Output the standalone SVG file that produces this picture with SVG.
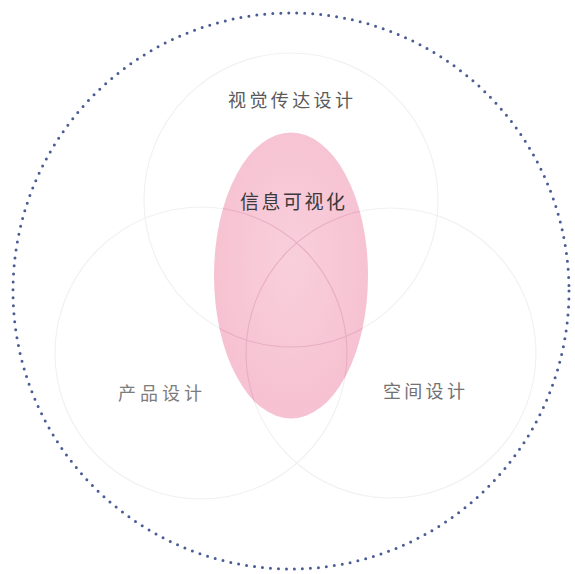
<svg xmlns="http://www.w3.org/2000/svg" width="575" height="574" viewBox="0 0 575 574">
  <style>
    .venn { fill: none; stroke: #f1f1f1; stroke-width: 1.2; }
    .venn-in { fill: none; stroke: #e8aec3; stroke-width: 1.1; }
    .lbl { font-family: "Noto Sans CJK SC", "Noto Sans CJK JP", sans-serif; font-size: 18px; fill: #666; }
  </style>
  <defs>
    <clipPath id="ellClip">
      <ellipse cx="291" cy="275.5" rx="77" ry="143"/>
    </clipPath>
    <radialGradient id="pinkGrad" cx="0.5" cy="0.45" r="0.6">
      <stop offset="0" stop-color="#f9cfdc"/>
      <stop offset="1" stop-color="#f6c0d1"/>
    </radialGradient>
  </defs>
  <rect width="575" height="574" fill="#ffffff"/>

  <g id="outer">
    <circle cx="291" cy="291" r="278" fill="none" stroke="#4a5c94" stroke-width="3" stroke-linecap="round" stroke-dasharray="0 8.02"/>
  </g>

  <g id="visual-design">
    <circle class="venn" cx="291" cy="200" r="147"/>
    <text class="lbl" x="228" y="107" letter-spacing="3.4" style="fill:#5a5a5a">视觉传达设计</text>
  </g>

  <g id="product-design">
    <circle class="venn" cx="201" cy="353" r="146"/>
    <text class="lbl" x="118" y="400" letter-spacing="4" style="fill:#7c7c7c">产品设计</text>
  </g>

  <g id="space-design">
    <circle class="venn" cx="391" cy="353" r="145"/>
    <text class="lbl" x="383" y="398" letter-spacing="3.3" style="fill:#727272">空间设计</text>
  </g>

  <g id="info-vis">
    <ellipse cx="291" cy="275.5" rx="77" ry="143" fill="url(#pinkGrad)"/>
    <g clip-path="url(#ellClip)">
      <circle class="venn-in" cx="291" cy="200" r="147"/>
      <circle class="venn-in" cx="201" cy="353" r="146"/>
      <circle class="venn-in" cx="391" cy="353" r="145"/>
    </g>
    <text class="lbl" x="240" y="209" letter-spacing="2.5" style="fill:#3a3a3a;font-size:19px">信息可视化</text>
  </g>
</svg>
